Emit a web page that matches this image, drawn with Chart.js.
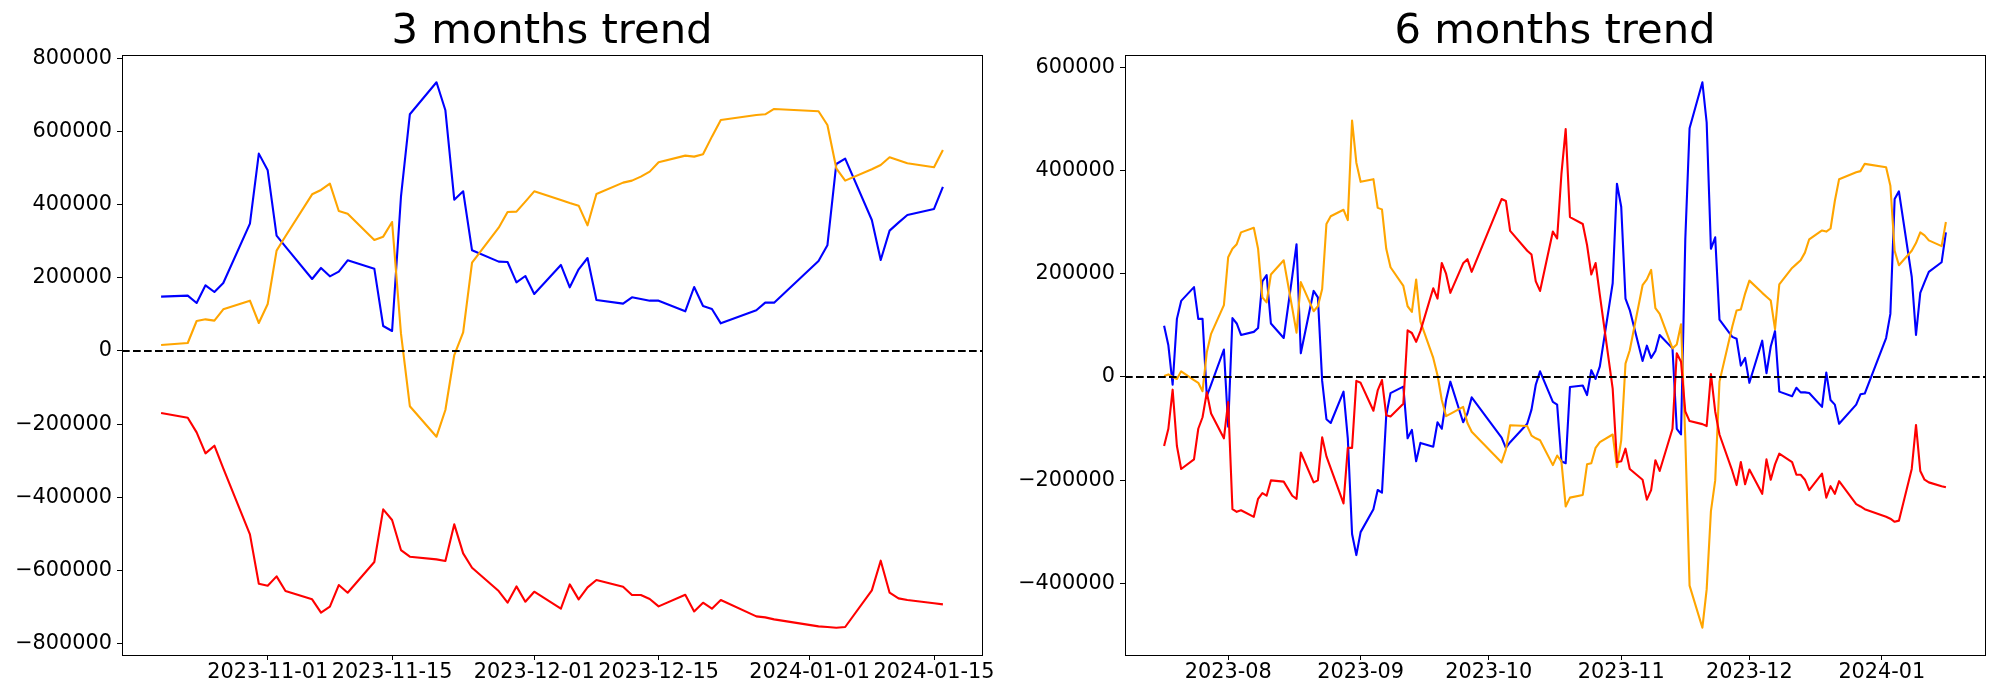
<!DOCTYPE html>
<html>
<head>
<meta charset="utf-8">
<title>Trend</title>
<script src="https://cdn.jsdelivr.net/npm/chart.js@4/dist/chart.umd.min.js"></script>
<style>
  html, body { margin: 0; padding: 0; background: #fff; }
  .row { display: flex; width: 2000px; height: 700px; }
  .row div { width: 1000px; height: 700px; }
</style>
</head>
<body>
<div class="row">
  <div><canvas id="trend3m" width="1000" height="700"></canvas></div>
  <div><canvas id="trend6m" width="1000" height="700"></canvas></div>
</div>
<script>
//  Data

// 3 months
const dates3m = [
  "2023-10-20", "2023-10-23", "2023-10-24", "2023-10-25", "2023-10-26", "2023-10-27", "2023-10-30", "2023-10-31",
  "2023-11-01", "2023-11-02", "2023-11-03", "2023-11-06", "2023-11-07", "2023-11-08", "2023-11-09", "2023-11-10",
  "2023-11-13", "2023-11-14", "2023-11-15", "2023-11-16", "2023-11-17", "2023-11-20", "2023-11-21", "2023-11-22",
  "2023-11-23", "2023-11-24", "2023-11-27", "2023-11-28", "2023-11-29", "2023-11-30",
  "2023-12-01", "2023-12-04", "2023-12-05", "2023-12-06", "2023-12-07", "2023-12-08", "2023-12-11", "2023-12-12",
  "2023-12-13", "2023-12-14", "2023-12-15", "2023-12-18", "2023-12-19", "2023-12-20", "2023-12-21", "2023-12-22",
  "2023-12-26", "2023-12-27", "2023-12-28",
  "2024-01-02", "2024-01-03", "2024-01-04", "2024-01-05", "2024-01-08", "2024-01-09", "2024-01-10", "2024-01-11",
  "2024-01-12", "2024-01-15", "2024-01-16",
];
const blue3m = [
  148700, 151400, 131300, 179700, 161400, 186000, 348400, 539900,
  494300, 315600, 285500, 197000, 227100, 204300, 217100, 248100,
  225300, 68400, 54700, 422000, 647500, 735100, 658500, 414000,
  437000, 275400, 244400, 243500, 187900, 205200,
  156000, 235300, 174200, 223400, 254400, 139500, 129500, 146800,
  142300, 137700, 137700, 108500, 175100, 123100, 114900, 75700,
  111300, 132200, 132200,
  246200, 289100, 511600, 526200, 358400, 249000, 329200, 351100,
  372100, 388500, 448700,
];
const orange3m = [
  16400, 21900, 82100, 86600, 83000, 114000, 137700, 76600,
  128600, 274500, 313700, 428600, 440500, 457800, 383000, 375700,
  303700, 312800, 352900, 48000, -151000, -234400, -161400, -11000,
  51000, 241800, 337400, 380300, 381200, 408600,
  436800, 413000, 405000, 397600, 343800, 429600, 460600, 466000,
  477000, 490700, 516200, 534400, 531700, 538100, 586400, 632000,
  645700, 647500, 662100,
  655700, 618300, 499800, 466000, 497000, 508900, 529900, 521700,
  513500, 502500, 549900,
];
const red3m = [
  -169600, -182400, -222500, -280000, -259000, -321000, -501600, -636600,
  -642000, -616500, -656600, -679400, -715900, -699500, -640200, -661200,
  -577300, -433200, -462400, -544500, -562700, -570000, -574600, -474200,
  -553600, -592800, -656600, -688600, -643900, -685800,
  -658500, -705000, -638400, -679400, -646600, -626500, -644800, -667600,
  -667600, -678500, -698600, -666700, -712300, -688600, -705000, -681300,
  -726000, -728700, -734200,
  -753300, -755000, -757000, -755000, -654800, -573600, -661200, -676700,
  -681300, -690000, -693100,
];
const xTicks3m = ["2023-11-01", "2023-11-15", "2023-12-01", "2023-12-15", "2024-01-01", "2024-01-15"];
const xLabels3m = ["2023-11-01", "2023-11-15", "2023-12-01", "2023-12-15", "2024-01-01", "2024-01-15"];
const yTicks3m = [-800000, -600000, -400000, -200000, 0, 200000, 400000, 600000, 800000];

// 6 months
const dates6m = [
  "2023-07-17", "2023-07-18", "2023-07-19", "2023-07-20", "2023-07-21", "2023-07-24", "2023-07-25", "2023-07-26",
  "2023-07-27", "2023-07-28", "2023-07-31",
  "2023-08-01", "2023-08-02", "2023-08-03", "2023-08-04", "2023-08-07", "2023-08-08", "2023-08-09", "2023-08-10",
  "2023-08-11", "2023-08-14", "2023-08-16", "2023-08-17", "2023-08-18", "2023-08-21", "2023-08-22", "2023-08-23",
  "2023-08-24", "2023-08-25", "2023-08-28", "2023-08-29", "2023-08-30", "2023-08-31",
  "2023-09-01", "2023-09-04", "2023-09-05", "2023-09-06", "2023-09-07", "2023-09-08", "2023-09-11", "2023-09-12",
  "2023-09-13", "2023-09-14", "2023-09-15", "2023-09-18", "2023-09-19", "2023-09-20", "2023-09-21", "2023-09-22",
  "2023-09-25", "2023-09-26", "2023-09-27",
  "2023-10-04", "2023-10-05", "2023-10-06", "2023-10-10", "2023-10-11", "2023-10-12", "2023-10-13", "2023-10-16",
  "2023-10-17", "2023-10-18", "2023-10-19", "2023-10-20", "2023-10-23", "2023-10-24", "2023-10-25", "2023-10-26",
  "2023-10-27", "2023-10-30", "2023-10-31",
  "2023-11-01", "2023-11-02", "2023-11-03", "2023-11-06", "2023-11-07", "2023-11-08", "2023-11-09", "2023-11-10",
  "2023-11-13", "2023-11-14", "2023-11-15", "2023-11-16", "2023-11-17", "2023-11-20", "2023-11-21", "2023-11-22",
  "2023-11-23", "2023-11-24", "2023-11-27", "2023-11-28", "2023-11-29", "2023-11-30",
  "2023-12-01", "2023-12-04", "2023-12-05", "2023-12-06", "2023-12-07", "2023-12-08", "2023-12-11", "2023-12-12",
  "2023-12-13", "2023-12-14", "2023-12-15", "2023-12-18", "2023-12-19", "2023-12-20", "2023-12-21", "2023-12-22",
  "2023-12-26", "2023-12-27", "2023-12-28",
  "2024-01-02", "2024-01-03", "2024-01-04", "2024-01-05", "2024-01-08", "2024-01-09", "2024-01-10", "2024-01-11",
  "2024-01-12", "2024-01-15", "2024-01-16",
];
const blue6m = [
  99400, 61500, -15000, 112700, 147600, 174300, 112700, 112700,
  -37300, -15000, 53300,
  -96600, 114200, 103800, 81500, 87500, 94900, 185500, 197400,
  103800, 75600, 195000, 257500, 45900, 166900, 154300, -7600,
  -81800, -89200, -28400, -118900, -304600, -345400,
  -300900, -256300, -219200, -224400, -74400, -31300, -18700, -118900,
  -102600, -163500, -127800, -135300, -87800, -100400, -44700, -9100,
  -87800, -70700, -39500,
  -117500, -137500, -126400, -90700, -63200, -15000, 11000, -48400,
  -53600, -163500, -167200, -19500, -16500, -35000, 13200, -3900,
  20600, 181800, 374800,
  330300, 152100, 129800, 31000, 60700, 37000, 50300, 81500,
  55500, -100400, -111500, 267100, 482500, 571600, 493600, 248600,
  270900, 111200, 77800, 74100, 22100, 37000,
  -11300, 70400, 7300, 59200, 88900, -28400, -37300, -20900,
  -29800, -29800, -31000, -58000, 8800, -44700, -53600, -90700,
  -53600, -33600, -32100,
  75600, 122400, 345100, 360000, 194400, 81500, 163200, 183900,
  204000, 222600, 280500,
];
const orange6m = [
  2100, 5000, 0, -3900, 11000, -6100, -11300, -27600,
  48100, 83700, 139400,
  232200, 248600, 257500, 280500, 289400, 248600, 154300, 144600,
  198800, 226300, 133500, 86000, 184000, 127600, 137200, 170600,
  296900, 311700, 324300, 304300, 497300, 415600,
  378500, 383700, 328000, 325100, 248600, 212900, 176600, 137200,
  126100, 189200, 107500, 37000, 3600, -44700, -75900, -71400,
  -58000, -89200, -106300,
  -165700, -141000, -93700, -95200, -113800, -118900, -122700, -170900,
  -152400, -163500, -251100, -234000, -228800, -169400, -167200, -137500,
  -126400, -111500, -174600,
  -122700, 25800, 51800, 178000, 189200, 207700, 133500, 122400,
  55500, 63000, 102300, -119000, -404600, -486300, -412000, -260000,
  -200600, -9000, 98000, 128800, 130700, 161800,
  186900, 163200, 155800, 148400, 92700, 179600, 211500, 218900,
  226300, 241200, 267100, 284200, 282000, 288000, 341400, 383700,
  397100, 399300, 413400,
  406700, 371100, 244900, 216700, 244900, 259700, 280500, 274600,
  264900, 253800, 300600,
];
const red6m = [
  -133800, -100400, -24600, -133800, -178400, -159800, -100400, -78100,
  -29800, -70700, -118900,
  -48400, -256300, -261500, -258500, -271200, -236300, -225100, -230300,
  -200600, -202900, -230300, -236300, -146500, -204400, -200600, -116900,
  -154000, -176900, -245200, -137500, -137500, -7600,
  -11300, -65500, -26100, -6000, -74400, -76600, -52100, 90500,
  85300, 68200, 89000, 172100, 152100, 221100, 200300, 163200,
  220400, 228500, 204000,
  345100, 341400, 283500, 244900, 237400, 185400, 166900, 282000,
  268600, 393300, 480900, 310200, 296800, 256000, 198800, 221100,
  158700, -22600, -165200,
  -163500, -139000, -178400, -199200, -237800, -219300, -161400, -182200,
  -100400, 45900, 29600, -66900, -85500, -91400, -95200, 5800,
  -66900, -111500, -182200, -209600, -165000, -207900,
  -179600, -226600, -159800, -199200, -169500, -148600, -165000, -189500,
  -189500, -199200, -219300, -187300, -234000, -211800, -226600, -202100,
  -246700, -251100, -256300,
  -271200, -274900, -280800, -278600, -178400, -93000, -182200, -199200,
  -204400, -211800, -214000,
];
const xTicks6m = ["2023-08-01", "2023-09-01", "2023-10-01", "2023-11-01", "2023-12-01", "2024-01-01"];
const xLabels6m = ["2023-08", "2023-09", "2023-10", "2023-11", "2023-12", "2024-01"];
const yTicks6m = [-400000, -200000, 0, 200000, 400000, 600000];

//  Chart setup

const DAY = 86400000;
const toDay = (s) => Date.parse(s) / DAY;
const minus = (v) => (v < 0 ? "\u2212" + Math.abs(v) : String(v));

Chart.defaults.font.family = "'DejaVu Sans', sans-serif";
Chart.defaults.color = "#000";

// box around the plot + dashed zero line
const frame = {
  id: "frame",
  afterDatasetsDraw(chart) {
    const { ctx, chartArea, scales } = chart;
    const y0 = scales.y.getPixelForValue(0);
    ctx.save();
    ctx.strokeStyle = "#000";
    ctx.lineWidth = 2;
    ctx.setLineDash([7.7, 3.3]);
    ctx.beginPath();
    ctx.moveTo(chartArea.left, y0);
    ctx.lineTo(chartArea.right, y0);
    ctx.stroke();
    ctx.setLineDash([]);
    ctx.lineWidth = 1;
    ctx.strokeRect(chartArea.left + 0.5, chartArea.top + 0.5, chartArea.width, chartArea.height);
    ctx.restore();
  },
};

function line(color, xs, values, order) {
  return {
    data: values.map((v, i) => ({ x: xs[i], y: v })),
    borderColor: color,
    borderWidth: 2.1,
    borderJoinStyle: "round",
    pointRadius: 0,
    pointHitRadius: 0,
    tension: 0,
    fill: false,
    order: order,
  };
}

function trendChart(id, title, dates, blue, orange, red, xTicks, xLabels, yTicks, axisWidth, padRight) {
  const xs = dates.map(toDay);
  const all = blue.concat(orange, red);
  const yMin = Math.min(...all);
  const yMax = Math.max(...all);
  const xMin = xs[0];
  const xMax = xs[xs.length - 1];
  const mx = (xMax - xMin) * 0.05;
  const my = (yMax - yMin) * 0.05;

  const tickGrid = { drawOnChartArea: false, drawTicks: true, tickLength: 5, tickColor: "#000", tickWidth: 1 };

  return new Chart(document.getElementById(id), {
    type: "line",
    data: {
      datasets: [
        line("#0000ff", xs, blue, 3),
        line("#ffa500", xs, orange, 2),
        line("#ff0000", xs, red, 1),
      ],
    },
    options: {
      responsive: false,
      animation: false,
      events: [],
      layout: { padding: { left: 0, right: padRight, top: 0, bottom: 0 } },
      plugins: {
        legend: { display: false },
        tooltip: { enabled: false },
        title: {
          display: true,
          text: title,
          fullSize: false,
          color: "#000",
          font: { size: 41.7, weight: "normal", lineHeight: 1 },
          padding: { top: 11.5, bottom: 1.8 },
        },
      },
      scales: {
        x: {
          type: "linear",
          min: xMin - mx,
          max: xMax + mx,
          grid: tickGrid,
          border: { display: false },
          afterBuildTicks: (scale) => {
            scale.ticks = xTicks.map((s) => ({ value: toDay(s) }));
          },
          afterFit: (scale) => {
            scale.height = 45;
          },
          ticks: {
            autoSkip: false,
            maxRotation: 0,
            minRotation: 0,
            padding: 2,
            font: { size: 20.8, lineHeight: 1 },
            callback: (value, index) => xLabels[index],
          },
        },
        y: {
          min: yMin - my,
          max: yMax + my,
          grid: tickGrid,
          border: { display: false },
          afterBuildTicks: (scale) => {
            scale.ticks = yTicks.map((v) => ({ value: v }));
          },
          afterFit: (scale) => {
            scale.width = axisWidth;
          },
          ticks: {
            padding: 5,
            font: { size: 20.8 },
            callback: (value) => minus(value),
          },
        },
      },
    },
    plugins: [frame],
  });
}

trendChart("trend3m", "3 months trend", dates3m, blue3m, orange3m, red3m, xTicks3m, xLabels3m, yTicks3m, 122, 18);
trendChart("trend6m", "6 months trend", dates6m, blue6m, orange6m, red6m, xTicks6m, xLabels6m, yTicks6m, 125, 15);
</script>
</body>
</html>
